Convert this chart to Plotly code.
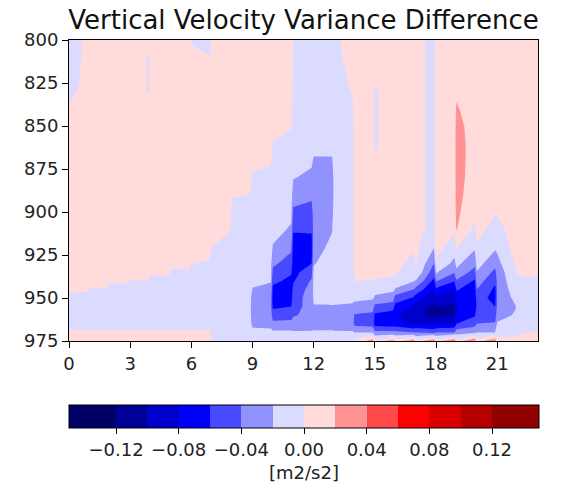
import numpy as np
import plotly.graph_objects as go

# ---------------- data ----------------
# pressure levels [hPa], top to bottom
pressure_levels = [800, 810, 820, 830, 840, 850, 860, 870, 880, 890, 900, 910, 920,
                   930, 935, 940, 945, 950, 955, 960, 965, 970, 975]

# times (hours) at which the profiles were read: start and end of every hourly block
read_hours = [0, 0.9, 1, 1.9, 2, 2.9, 3, 3.9, 4, 4.9, 5, 5.9, 6, 6.9, 7, 7.9,
              8, 8.9, 9, 9.9, 10, 10.9, 11, 11.9, 12, 12.9, 13, 13.9, 14, 14.9,
              15, 15.9, 16, 16.9, 17, 17.9, 18, 18.9, 19, 19.9, 20, 20.9,
              21, 21.9, 22, 22.9, 23]

# vertical velocity variance difference [m2/s2] profiles (800 -> 975 hPa)
b00s = [-0.019, -0.015, -0.012, -0.006, 0.002, 0.008, 0.008, 0.008, 0.008, 0.008, 0.008, 0.008, 0.008, 0.008, 0.008, 0.008, 0.003, -0.004, -0.008, -0.008, -0.006, 0.003, 0.008]
b00e = [0.008, 0.008, 0.008, 0.008, 0.008, 0.008, 0.008, 0.008, 0.008, 0.008, 0.008, 0.008, 0.008, 0.008, 0.008, 0.008, 0.002, -0.005, -0.008, -0.008, -0.006, 0.003, 0.008]
b01 = [0.008, 0.008, 0.008, 0.008, 0.008, 0.008, 0.008, 0.008, 0.008, 0.008, 0.008, 0.008, 0.008, 0.008, 0.008, 0.006, -0.001, -0.008, -0.008, -0.008, -0.006, 0.003, 0.008]
b02 = [0.008, 0.008, 0.008, 0.008, 0.008, 0.008, 0.008, 0.008, 0.008, 0.008, 0.008, 0.008, 0.008, 0.008, 0.008, 0.002, -0.005, -0.008, -0.008, -0.008, -0.006, 0.003, 0.008]
b03s = [0.008, 0.008, 0.008, 0.008, 0.008, 0.008, 0.008, 0.008, 0.008, 0.008, 0.008, 0.008, 0.008, 0.008, 0.006, -0.0005, -0.008, -0.008, -0.008, -0.008, -0.006, 0.003, 0.008]
b03e = [0.008, -0.001, -0.001, -0.001, 0.008, 0.008, 0.008, 0.008, 0.008, 0.008, 0.008, 0.008, 0.008, 0.008, 0.006, -0.0005, -0.008, -0.008, -0.008, -0.008, -0.006, 0.003, 0.008]
b04 = [0.008, 0.008, 0.008, 0.008, 0.008, 0.008, 0.008, 0.008, 0.008, 0.008, 0.008, 0.008, 0.008, 0.008, 0.003, -0.005, -0.008, -0.008, -0.008, -0.008, -0.006, 0.003, 0.008]
b05 = [0.008, 0.008, 0.008, 0.008, 0.008, 0.008, 0.008, 0.008, 0.008, 0.008, 0.008, 0.008, 0.008, 0.004, -0.002, -0.008, -0.008, -0.008, -0.008, -0.008, -0.006, 0.003, 0.008]
b06s = [-0.002, 0.006, 0.008, 0.008, 0.008, 0.008, 0.008, 0.008, 0.008, 0.008, 0.008, 0.008, 0.008, 0.0005, -0.006, -0.008, -0.008, -0.008, -0.008, -0.008, -0.006, 0.003, 0.008]
b06e = [-0.006, 0.0005, 0.008, 0.008, 0.008, 0.008, 0.008, 0.008, 0.008, 0.008, 0.008, 0.008, 0.008, -0.002, -0.007, -0.008, -0.008, -0.008, -0.008, -0.008, -0.006, 0.003, 0.008]
b07s = [0.008, 0.008, 0.008, 0.008, 0.008, 0.008, 0.008, 0.008, 0.008, 0.008, 0.008, 0.006, 0.0002, -0.006, -0.008, -0.008, -0.008, -0.008, -0.008, -0.008, -0.008, -0.006, -0.002]
b07e = [0.008, 0.008, 0.008, 0.008, 0.008, 0.008, 0.008, 0.008, 0.008, 0.008, 0.008, 0.001, -0.005, -0.008, -0.008, -0.008, -0.008, -0.009, -0.010, -0.010, -0.009, -0.006, -0.002]
b08s = [0.008, 0.008, 0.008, 0.008, 0.008, 0.008, 0.008, 0.008, 0.008, 0.0015, -0.005, -0.008, -0.009, -0.010, -0.010, -0.010, -0.011, -0.012, -0.013, -0.013, -0.012, -0.008, -0.003]
b08e = [0.008, 0.008, 0.008, 0.008, 0.008, 0.008, 0.008, 0.008, 0.006, -0.0005, -0.006, -0.009, -0.010, -0.011, -0.012, -0.013, -0.014, -0.016, -0.017, -0.017, -0.015, -0.010, -0.003]
b09s = [0.008, 0.008, 0.008, 0.008, 0.008, 0.008, 0.008, 0.004, -0.002, -0.008, -0.010, -0.012, -0.013, -0.014, -0.015, -0.016, -0.021, -0.030, -0.032, -0.030, -0.025, -0.014, -0.004]
b09e = [0.008, 0.008, 0.008, 0.008, 0.008, 0.008, 0.008, 0.002, -0.004, -0.009, -0.011, -0.013, -0.014, -0.015, -0.016, -0.019, -0.024, -0.031, -0.033, -0.031, -0.026, -0.015, -0.004]
b10s = [0.008, 0.008, 0.008, 0.008, 0.008, 0.008, -0.001, -0.008, -0.010, -0.012, -0.013, -0.014, -0.021, -0.036, -0.045, -0.056, -0.064, -0.070, -0.064, -0.050, -0.035, -0.016, -0.004]
b10e = [0.008, 0.008, 0.008, 0.008, 0.008, 0.001, -0.004, -0.008, -0.010, -0.012, -0.016, -0.022, -0.035, -0.050, -0.058, -0.064, -0.068, -0.066, -0.060, -0.048, -0.034, -0.016, -0.004]
b11s = [-0.002, -0.002, -0.003, -0.004, -0.006, -0.008, -0.010, -0.013, -0.019, -0.030, -0.044, -0.058, -0.068, -0.070, -0.068, -0.062, -0.055, -0.050, -0.048, -0.042, -0.030, -0.018, -0.004]
b11e = [-0.004, -0.004, -0.005, -0.006, -0.007, -0.008, -0.011, -0.017, -0.024, -0.036, -0.047, -0.058, -0.066, -0.060, -0.045, -0.038, -0.032, -0.030, -0.032, -0.034, -0.028, -0.018, -0.004]
b12s = [-0.010, -0.010, -0.010, -0.010, -0.010, -0.011, -0.013, -0.022, -0.030, -0.031, -0.032, -0.031, -0.028, -0.021, -0.017, -0.014, -0.014, -0.017, -0.021, -0.026, -0.026, -0.018, -0.004]
b12e = [-0.010, -0.010, -0.010, -0.010, -0.010, -0.011, -0.013, -0.022, -0.030, -0.030, -0.026, -0.021, -0.016, -0.013, -0.012, -0.012, -0.013, -0.016, -0.021, -0.026, -0.026, -0.018, -0.004]
b13s = [-0.002, -0.004, -0.006, -0.009, -0.010, -0.011, -0.012, -0.014, -0.015, -0.015, -0.014, -0.013, -0.012, -0.011, -0.011, -0.012, -0.013, -0.016, -0.021, -0.028, -0.028, -0.018, -0.004]
b13e = [0.004, 0.005, 0.003, 0.001, -0.003, -0.006, -0.008, -0.009, -0.010, -0.010, -0.010, -0.010, -0.010, -0.010, -0.011, -0.012, -0.014, -0.017, -0.022, -0.030, -0.030, -0.018, -0.004]
b14s = [0.008, 0.008, 0.008, 0.008, 0.008, 0.008, 0.008, 0.008, 0.008, 0.008, 0.008, 0.008, 0.008, 0.008, 0.005, 0.0005, -0.008, -0.016, -0.026, -0.042, -0.046, -0.020, 0.006]
b14e = [0.008, 0.008, 0.008, 0.008, 0.008, 0.008, 0.008, 0.008, 0.008, 0.008, 0.008, 0.008, 0.008, 0.008, 0.004, -0.0005, -0.010, -0.018, -0.030, -0.045, -0.050, -0.020, 0.030]
b15s = [0.008, 0.008, 0.004, -0.002, -0.002, -0.002, -0.002, 0.002, 0.008, 0.008, 0.008, 0.008, 0.008, 0.008, 0.004, -0.001, -0.012, -0.024, -0.046, -0.064, -0.068, -0.035, 0.008]
b15e = [0.008, 0.008, 0.008, 0.008, 0.008, 0.008, 0.008, 0.008, 0.008, 0.008, 0.008, 0.008, 0.008, 0.008, 0.003, -0.003, -0.016, -0.030, -0.052, -0.070, -0.072, -0.035, 0.030]
b16s = [0.008, 0.008, 0.008, 0.008, 0.008, 0.008, 0.008, 0.008, 0.008, 0.008, 0.008, 0.008, 0.008, 0.006, 0.002, -0.006, -0.022, -0.050, -0.066, -0.078, -0.072, -0.035, 0.008]
b16e = [0.008, 0.008, 0.008, 0.008, 0.008, 0.008, 0.008, 0.008, 0.008, 0.008, 0.008, 0.008, 0.003, -0.006, -0.010, -0.018, -0.040, -0.062, -0.082, -0.090, -0.085, -0.040, 0.035]
b17s = [0.005, 0.005, 0.005, 0.005, 0.005, 0.005, 0.005, 0.005, 0.005, 0.005, 0.005, 0.005, 0.005, 0.002, -0.002, -0.021, -0.045, -0.070, -0.088, -0.095, -0.080, -0.040, 0.008]
b17e = [-0.005, -0.005, -0.005, -0.005, -0.005, -0.005, -0.005, -0.005, -0.005, -0.005, -0.005, -0.005, -0.018, -0.040, -0.052, -0.065, -0.080, -0.094, -0.104, -0.108, -0.085, -0.045, 0.040]
b18s = [0.008, 0.008, 0.008, 0.008, 0.008, 0.008, 0.008, 0.008, 0.008, 0.008, 0.008, 0.008, 0.008, -0.003, -0.018, -0.038, -0.064, -0.084, -0.100, -0.104, -0.082, -0.040, 0.008]
b18e = [0.008, 0.008, 0.008, 0.008, 0.010, 0.010, 0.010, 0.010, 0.010, 0.010, 0.010, 0.004, -0.010, -0.025, -0.038, -0.058, -0.080, -0.095, -0.102, -0.100, -0.078, -0.040, 0.040]
b19s = [0.008, 0.008, 0.012, 0.017, 0.022, 0.026, 0.028, 0.028, 0.027, 0.026, 0.024, 0.021, 0.002, -0.015, -0.024, -0.042, -0.058, -0.072, -0.082, -0.078, -0.060, -0.030, 0.008]
b19e = [0.008, 0.008, 0.008, 0.008, 0.010, 0.012, 0.012, 0.012, 0.012, 0.010, 0.006, -0.004, -0.016, -0.035, -0.048, -0.062, -0.070, -0.072, -0.070, -0.062, -0.048, -0.025, 0.040]
b20s = [0.008, 0.008, 0.008, 0.008, 0.008, 0.008, 0.008, 0.008, 0.008, 0.008, 0.008, 0.008, -0.002, -0.012, -0.021, -0.030, -0.040, -0.052, -0.058, -0.052, -0.040, -0.020, 0.008]
b20e = [0.008, 0.008, 0.008, 0.008, 0.008, 0.008, 0.008, 0.008, 0.008, 0.008, 0.002, -0.008, -0.016, -0.034, -0.045, -0.056, -0.064, -0.066, -0.060, -0.050, -0.038, -0.020, 0.040]
b21s = [0.008, 0.008, 0.008, 0.008, 0.008, 0.008, 0.008, 0.008, 0.008, 0.008, 0.002, -0.006, -0.016, -0.026, -0.032, -0.034, -0.036, -0.037, -0.035, -0.028, -0.018, -0.010, 0.008]
b21e = [0.008, 0.008, 0.008, 0.008, 0.008, 0.008, 0.008, 0.008, 0.008, 0.008, 0.008, 0.008, 0.008, 0.002, -0.002, -0.006, -0.010, -0.015, -0.021, -0.018, -0.012, -0.006, 0.006]
b22s = [0.008, 0.008, 0.008, 0.008, 0.008, 0.008, 0.008, 0.008, -0.001, 0.008, 0.008, 0.008, 0.008, 0.008, 0.003, -0.003, -0.008, -0.008, -0.009, -0.008, -0.006, -0.002, 0.006]
b22e = [0.008, 0.008, 0.008, 0.008, 0.008, 0.008, 0.008, 0.008, 0.008, 0.008, 0.008, 0.008, 0.008, 0.008, 0.003, -0.003, -0.008, -0.008, -0.008, -0.008, -0.006, 0.0005, 0.006]
b23 = [0.008, 0.008, 0.008, 0.008, 0.008, 0.008, 0.008, 0.008, 0.008, 0.008, 0.008, 0.008, 0.008, 0.008, 0.003, -0.003, -0.008, -0.008, -0.008, -0.008, -0.006, 0.0005, 0.006]

level_start = -0.14
level_end = 0.14
level_step = 0.02
band_colors = ["#000066", "#000099", "#0000cc", "#0000ff", "#4949ff", "#9292ff", "#dbdbff",
               "#ffdbdb", "#ff9292", "#ff4949", "#ff0000", "#db0000", "#b60000", "#920000"]
cbar_ticks = [-0.12, -0.08, -0.04, 0.0, 0.04, 0.08, 0.12]
x_ticks = [0, 3, 6, 9, 12, 15, 18, 21]
y_ticks = [800, 825, 850, 875, 900, 925, 950, 975]

# ---------------- build ----------------
profiles = [b00s, b00e, b01, b01, b02, b02, b03s, b03e, b04, b04, b05, b05,
            b06s, b06e, b07s, b07e, b08s, b08e, b09s, b09e, b10s, b10e, b11s, b11e,
            b12s, b12e, b13s, b13e, b14s, b14e, b15s, b15e, b16s, b16e, b17s, b17e,
            b18s, b18e, b19s, b19e, b20s, b20e, b21s, b21e, b22s, b22e, b23]
z = np.array(profiles).T

ext = [band_colors[0]] + band_colors + [band_colors[-1]]
n = len(ext) - 1
colorscale = []
for k, c in enumerate(ext):
    lo = max(0.0, (k - 0.5) / n)
    hi = min(1.0, (k + 0.5) / n)
    colorscale.append([lo, c])
    colorscale.append([hi, c])

font_family = "DejaVu Sans"

fig = go.Figure(go.Contour(
    x=read_hours, y=pressure_levels, z=z,
    autocontour=False,
    contours=dict(start=level_start, end=level_end, size=level_step,
                  coloring="fill", showlines=False),
    line=dict(width=0, smoothing=0),
    colorscale=colorscale,
    colorbar=dict(
        orientation="h", x=0, xanchor="left", y=-0.2126, yanchor="top",
        len=470, lenmode="pixels", thickness=23, xpad=0, ypad=0,
        outlinewidth=1, outlinecolor="black",
        tickvals=cbar_ticks, tickformat=".2f", ticks="outside", ticklen=6,
        tickcolor="black", tickfont=dict(family=font_family, size=18, color="#222"),
        title=dict(text="[m2/s2]", side="bottom",
                   font=dict(family=font_family, size=18, color="#222")),
    ),
    hoverinfo="skip",
))

axis_common = dict(showline=True, mirror=True, linecolor="black", linewidth=1,
                   ticks="outside", ticklen=6, tickwidth=1, tickcolor="black",
                   showgrid=False, zeroline=False, automargin=False,
                   tickfont=dict(family=font_family, size=18, color="#222"))

fig.update_xaxes(range=[0, 23], tickvals=x_ticks, **axis_common)
fig.update_yaxes(range=[975, 800], tickvals=y_ticks, **axis_common)

fig.update_layout(
    width=561, height=494,
    margin=dict(l=69, r=23, t=40, b=153, autoexpand=False),
    paper_bgcolor="white", plot_bgcolor="white",
    title=dict(text="Vertical Velocity Variance Difference", x=0.5, xref="paper",
               y=0.979, yref="container", yanchor="top",
               font=dict(family=font_family, size=26, color="#111")),
)

fig.write_html("out.html")
